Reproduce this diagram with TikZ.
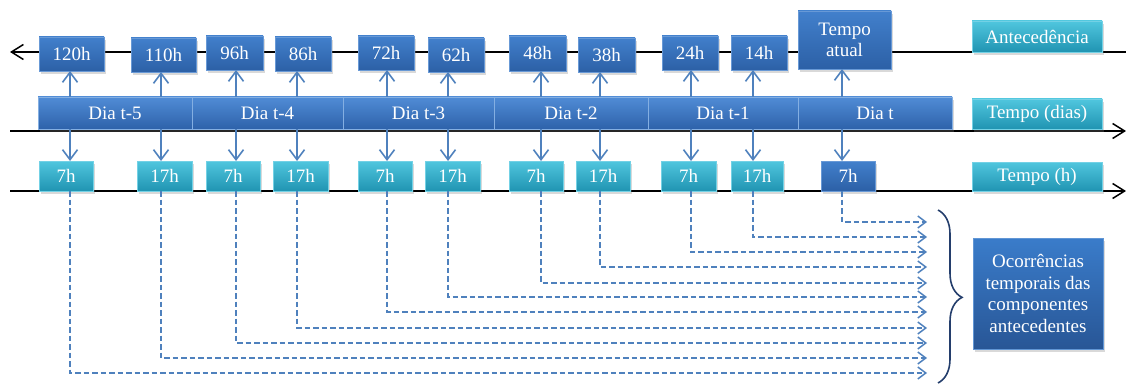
\documentclass[tikz,border=0pt]{standalone}
\usepackage{fontspec}
\setmainfont{Liberation Serif}
\usetikzlibrary{arrows.meta,shadows,decorations.pathreplacing}
\definecolor{tbTop}{RGB}{66,128,204}
\definecolor{tbBot}{RGB}{44,96,166}
\definecolor{dbTop}{RGB}{80,140,214}
\definecolor{dbBot}{RGB}{46,98,170}
\definecolor{cyTop}{RGB}{80,198,222}
\definecolor{cyBot}{RGB}{32,148,178}
\definecolor{ocTop}{RGB}{58,124,202}
\definecolor{ocBot}{RGB}{40,86,150}
\definecolor{arrBlue}{RGB}{79,129,189}
\definecolor{braceNavy}{RGB}{36,62,108}
\newcommand{\mybox}[7]{\node[#1, minimum width={#4-#3}, minimum height={#6-#5}] (#2) at ({(#3+#4)/2},{(#5+#6)/2}) {#7};}
\begin{document}
\begin{tikzpicture}[x=1pt,y=-1pt,
  base/.style={inner sep=1pt, outer sep=0pt, text=white, font=\fontsize{19}{20.5}\selectfont, align=center,
    drop shadow={shadow xshift=2pt, shadow yshift=-3pt, opacity=0.3}},
  topbox/.style={base, top color=tbTop, bottom color=tbBot, draw=tbTop!80!white, line width=0.4pt},
  daybox/.style={base, top color=dbTop, bottom color=dbBot, draw=dbTop!70!white, line width=0.4pt},
  cybox/.style={base, top color=cyTop, bottom color=cyBot, draw=cyTop!80!white, line width=0.4pt},
  ocbox/.style={base, top color=ocTop, bottom color=ocBot, draw=ocTop!80!white, line width=0.4pt, font=\fontsize{19}{21.7}\selectfont},
  axis/.style={draw=black, line width=1.5pt},
  uarrow/.style={draw=arrBlue, line width=1.6pt, -{Straight Barb[length=10pt,width=15pt]}},
  darrow/.style={draw=arrBlue, line width=1.5pt, dash pattern=on 5.5pt off 3pt, -{Straight Barb[length=8pt,width=12pt]}},
]
\useasboundingbox (0,0) rectangle (1126,385);
% axes
\coordinate (al) at (10,52); \coordinate (ar) at (1126,52);
\coordinate (ml) at (10,131); \coordinate (mr) at (1126,131);
\coordinate (bl) at (10,191); \coordinate (br) at (1126,191);
\draw[axis, {Straight Barb[length=12pt,width=15pt]}-] (al) -- (ar);
\draw[axis, -{Straight Barb[length=12pt,width=15pt]}] (ml) -- (mr);
\draw[axis, -{Straight Barb[length=12pt,width=15pt]}] (bl) -- (br);
% top boxes
\mybox{topbox}{t1}{39}{104}{37}{71}{120h}
\mybox{topbox}{t2}{131}{196}{38}{72}{110h}
\mybox{topbox}{t3}{206}{263}{36}{70}{96h}
\mybox{topbox}{t4}{275}{331}{37}{71}{86h}
\mybox{topbox}{t5}{358}{414}{36}{70}{72h}
\mybox{topbox}{t6}{428}{484}{38}{72}{62h}
\mybox{topbox}{t7}{509}{566}{36}{71}{48h}
\mybox{topbox}{t8}{578}{635}{38}{72}{38h}
\mybox{topbox}{t9}{662}{718}{36}{70}{24h}
\mybox{topbox}{t10}{731}{787}{36}{70}{14h}
\mybox{topbox}{t11}{798}{891}{11}{69}{Tempo\\atual}
% day boxes
\mybox{daybox}{d1}{38}{192}{97}{129}{Dia t-5}
\mybox{daybox}{d2}{192}{343}{97}{129}{Dia t-4}
\mybox{daybox}{d3}{343}{494}{97}{129}{Dia t-3}
\mybox{daybox}{d4}{494}{648}{97}{129}{Dia t-2}
\mybox{daybox}{d5}{648}{798}{97}{129}{Dia t-1}
\mybox{daybox}{d6}{798}{952}{97}{129}{Dia t}
% bottom boxes
\mybox{cybox}{b1}{39}{93}{161}{191}{7h}
\mybox{cybox}{b2}{137}{192}{161}{191}{17h}
\mybox{cybox}{b3}{206}{260}{161}{191}{7h}
\mybox{cybox}{b4}{273}{328}{161}{191}{17h}
\mybox{cybox}{b5}{358}{412}{161}{191}{7h}
\mybox{cybox}{b6}{425}{480}{161}{191}{17h}
\mybox{cybox}{b7}{509}{563}{161}{191}{7h}
\mybox{cybox}{b8}{576}{630}{161}{191}{17h}
\mybox{cybox}{b9}{661}{716}{161}{191}{7h}
\mybox{cybox}{b10}{731}{783}{161}{191}{17h}
\mybox{topbox}{b11}{821}{875}{161}{191}{7h}
% legend boxes
\mybox{cybox}{la}{972}{1102}{21}{52}{Antecedência}
\mybox{cybox}{lb}{972}{1102}{99}{129}{Tempo (dias)}
\mybox{cybox}{lc}{972}{1102}{162}{191}{Tempo (h)}
\mybox{ocbox}{oc}{973}{1103}{238}{349}{Ocorrências\\temporais das\\componentes\\antecedentes}
% arrow columns
\coordinate (x1) at (70,0);  \coordinate (x2) at (161,0); \coordinate (x3) at (236,0);
\coordinate (x4) at (297,0); \coordinate (x5) at (387,0); \coordinate (x6) at (448,0);
\coordinate (x7) at (541,0); \coordinate (x8) at (600,0); \coordinate (x9) at (691,0);
\coordinate (x10) at (753,0); \coordinate (x11) at (842,0);
% up arrows
\draw[uarrow] (d1.north -| x1) -- (t1.south -| x1);
\draw[uarrow] (d1.north -| x2) -- (t2.south -| x2);
\draw[uarrow] (d2.north -| x3) -- (t3.south -| x3);
\draw[uarrow] (d2.north -| x4) -- (t4.south -| x4);
\draw[uarrow] (d3.north -| x5) -- (t5.south -| x5);
\draw[uarrow] (d3.north -| x6) -- (t6.south -| x6);
\draw[uarrow] (d4.north -| x7) -- (t7.south -| x7);
\draw[uarrow] (d4.north -| x8) -- (t8.south -| x8);
\draw[uarrow] (d5.north -| x9) -- (t9.south -| x9);
\draw[uarrow] (d5.north -| x10) -- (t10.south -| x10);
\draw[uarrow] (d6.north -| x11) -- (t11.south -| x11);
% down arrows
\draw[uarrow] (d1.south -| x1) -- (b1.north -| x1);
\draw[uarrow] (d1.south -| x2) -- (b2.north -| x2);
\draw[uarrow] (d2.south -| x3) -- (b3.north -| x3);
\draw[uarrow] (d2.south -| x4) -- (b4.north -| x4);
\draw[uarrow] (d3.south -| x5) -- (b5.north -| x5);
\draw[uarrow] (d3.south -| x6) -- (b6.north -| x6);
\draw[uarrow] (d4.south -| x7) -- (b7.north -| x7);
\draw[uarrow] (d4.south -| x8) -- (b8.north -| x8);
\draw[uarrow] (d5.south -| x9) -- (b9.north -| x9);
\draw[uarrow] (d5.south -| x10) -- (b10.north -| x10);
\draw[uarrow] (d6.south -| x11) -- (b11.north -| x11);
% dashed occurrence lines
\coordinate (e11) at (927,222); \coordinate (e10) at (927,237);
\coordinate (e9) at (927,252);  \coordinate (e8) at (927,267);
\coordinate (e7) at (927,283);  \coordinate (e6) at (927,297);
\coordinate (e5) at (927,312);  \coordinate (e4) at (927,328);
\coordinate (e3) at (927,343);  \coordinate (e2) at (927,358);
\coordinate (e1) at (927,373);
\draw[darrow] (b11.south -| x11) |- (e11);
\draw[darrow] (b10.south -| x10) |- (e10);
\draw[darrow] (b9.south -| x9) |- (e9);
\draw[darrow] (b8.south -| x8) |- (e8);
\draw[darrow] (b7.south -| x7) |- (e7);
\draw[darrow] (b6.south -| x6) |- (e6);
\draw[darrow] (b5.south -| x5) |- (e5);
\draw[darrow] (b4.south -| x4) |- (e4);
\draw[darrow] (b3.south -| x3) |- (e3);
\draw[darrow] (b2.south -| x2) |- (e2);
\draw[darrow] (b1.south -| x1) |- (e1);
% brace
\coordinate (bt) at (938,210); \coordinate (bb) at (938,383);
\draw[braceNavy, line width=1.6pt, decorate, decoration={brace, amplitude=24pt, aspect=0.505}] (bt) -- (bb);
\end{tikzpicture}
\end{document}
